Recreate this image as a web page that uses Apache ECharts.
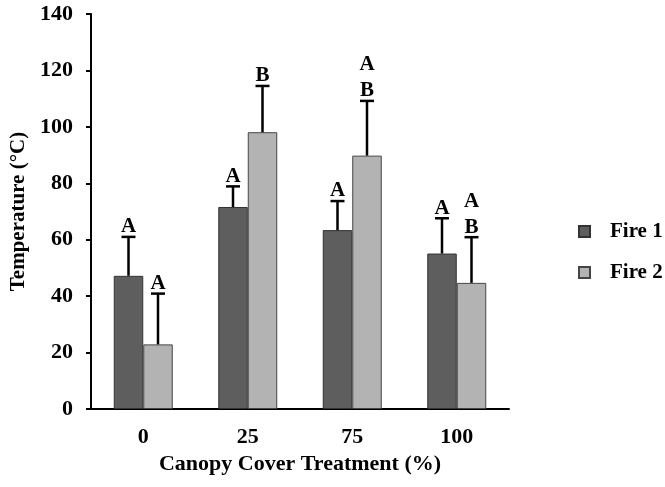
<!DOCTYPE html>
<html>
<head>
<meta charset="utf-8">
<script src="https://cdn.jsdelivr.net/npm/echarts@6/dist/echarts.min.js"></script>
<style>
  html, body { margin: 0; padding: 0; background: #fff; }
  #chart { width: 665px; height: 487px; }
</style>
</head>
<body>
<div id="chart"></div>
<script>
// Canopy cover treatments (%)
const categories = ['0', '25', '75', '100'];

// Mean temperature (°C) per fire
const fire1 = [47.2, 71.6, 63.4, 55.1];
const fire2 = [22.9, 98.1, 89.8, 44.7];

// Standard error (upper whisker only)
const fire1Se = [13.8, 7.3, 10.3, 12.5];
const fire2Se = [18.0, 16.4, 19.4, 16.2];

// Significance letters drawn above each whisker
const fire1Letters = ['A', 'A', 'A', 'A'];
const fire2Letters = ['A', 'B', 'A\nB', 'A\nB'];

// Y axis ticks
const yMin = 0, yMax = 140, yStep = 20;

const FONT = '"Liberation Serif", "Times New Roman", serif';
const BAR_W = 29.5;

function errorSeries(name, means, se, letters, side) {
  return {
    type: 'custom',
    name: name + ' error',
    z: 5,
    silent: true,
    data: means.map((m, i) => [i, m, m + se[i]]),
    renderItem: function (params, api) {
      const base = api.coord([api.value(0), api.value(1)]);
      const top = api.coord([api.value(0), api.value(2)]);
      const x = base[0] + side * BAR_W / 2;
      const capHalf = 7;
      const line = { stroke: '#000', lineWidth: 2.5 };
      return {
        type: 'group',
        children: [
          { type: 'line', shape: { x1: x, y1: base[1], x2: x, y2: top[1] }, style: line },
          { type: 'line', shape: { x1: x - capHalf, y1: top[1], x2: x + capHalf, y2: top[1] }, style: line },
          {
            type: 'text',
            style: {
              text: letters[params.dataIndex],
              x: x,
              y: top[1] + 3,
              align: 'center',
              verticalAlign: 'bottom',
              fill: '#000',
              fontFamily: FONT,
              fontWeight: 'bold',
              fontSize: 21,
              lineHeight: 26
            }
          }
        ]
      };
    }
  };
}

const chart = echarts.init(document.getElementById('chart'));
chart.setOption({
  animation: false,
  backgroundColor: '#fff',
  textStyle: { fontFamily: FONT },
  grid: { left: 91, top: 14, right: 156, bottom: 78, containLabel: false },
  legend: {
    data: ['Fire 1', 'Fire 2'],
    orient: 'vertical',
    left: 578,
    top: 221,
    padding: 0,
    itemWidth: 11,
    itemHeight: 11,
    itemGap: 20,
    icon: 'rect',
    textStyle: {
      fontFamily: FONT, fontWeight: 'bold', fontSize: 21, color: '#000',
      padding: [0, 0, 0, 15]
    }
  },
  xAxis: {
    type: 'category',
    data: categories,
    name: 'Canopy Cover Treatment (%)',
    nameLocation: 'middle',
    nameGap: 42,
    nameTextStyle: { fontFamily: FONT, fontWeight: 'bold', fontSize: 22, color: '#000' },
    axisLine: { lineStyle: { color: '#000', width: 2 } },
    axisTick: { alignWithLabel: true, length: 5, lineStyle: { color: '#000', width: 2 } },
    axisLabel: { margin: 17, fontFamily: FONT, fontWeight: 'bold', fontSize: 22, color: '#000' }
  },
  yAxis: {
    type: 'value',
    min: yMin,
    max: yMax,
    interval: yStep,
    name: 'Temperature (°C)',
    nameLocation: 'middle',
    nameGap: 55,
    nameTextStyle: { fontFamily: FONT, fontWeight: 'bold', fontSize: 21, color: '#000' },
    axisLine: { show: true, lineStyle: { color: '#000', width: 2 } },
    axisTick: { show: true, length: 5, lineStyle: { color: '#000', width: 2 } },
    axisLabel: {
      margin: 18, fontFamily: FONT, fontWeight: 'bold', fontSize: 22, color: '#000',
      padding: [3, 0, 0, 0]
    },
    splitLine: { show: false }
  },
  series: [
    {
      name: 'Fire 1',
      type: 'bar',
      data: fire1,
      barWidth: BAR_W,
      barGap: '0%',
      itemStyle: { color: '#5e5e5e', borderColor: '#333', borderWidth: 1 }
    },
    {
      name: 'Fire 2',
      type: 'bar',
      data: fire2,
      barWidth: BAR_W,
      barGap: '0%',
      itemStyle: { color: '#b3b3b3', borderColor: '#444', borderWidth: 1 }
    },
    errorSeries('Fire 1', fire1, fire1Se, fire1Letters, -1),
    errorSeries('Fire 2', fire2, fire2Se, fire2Letters, 1)
  ]
});
</script>
</body>
</html>
